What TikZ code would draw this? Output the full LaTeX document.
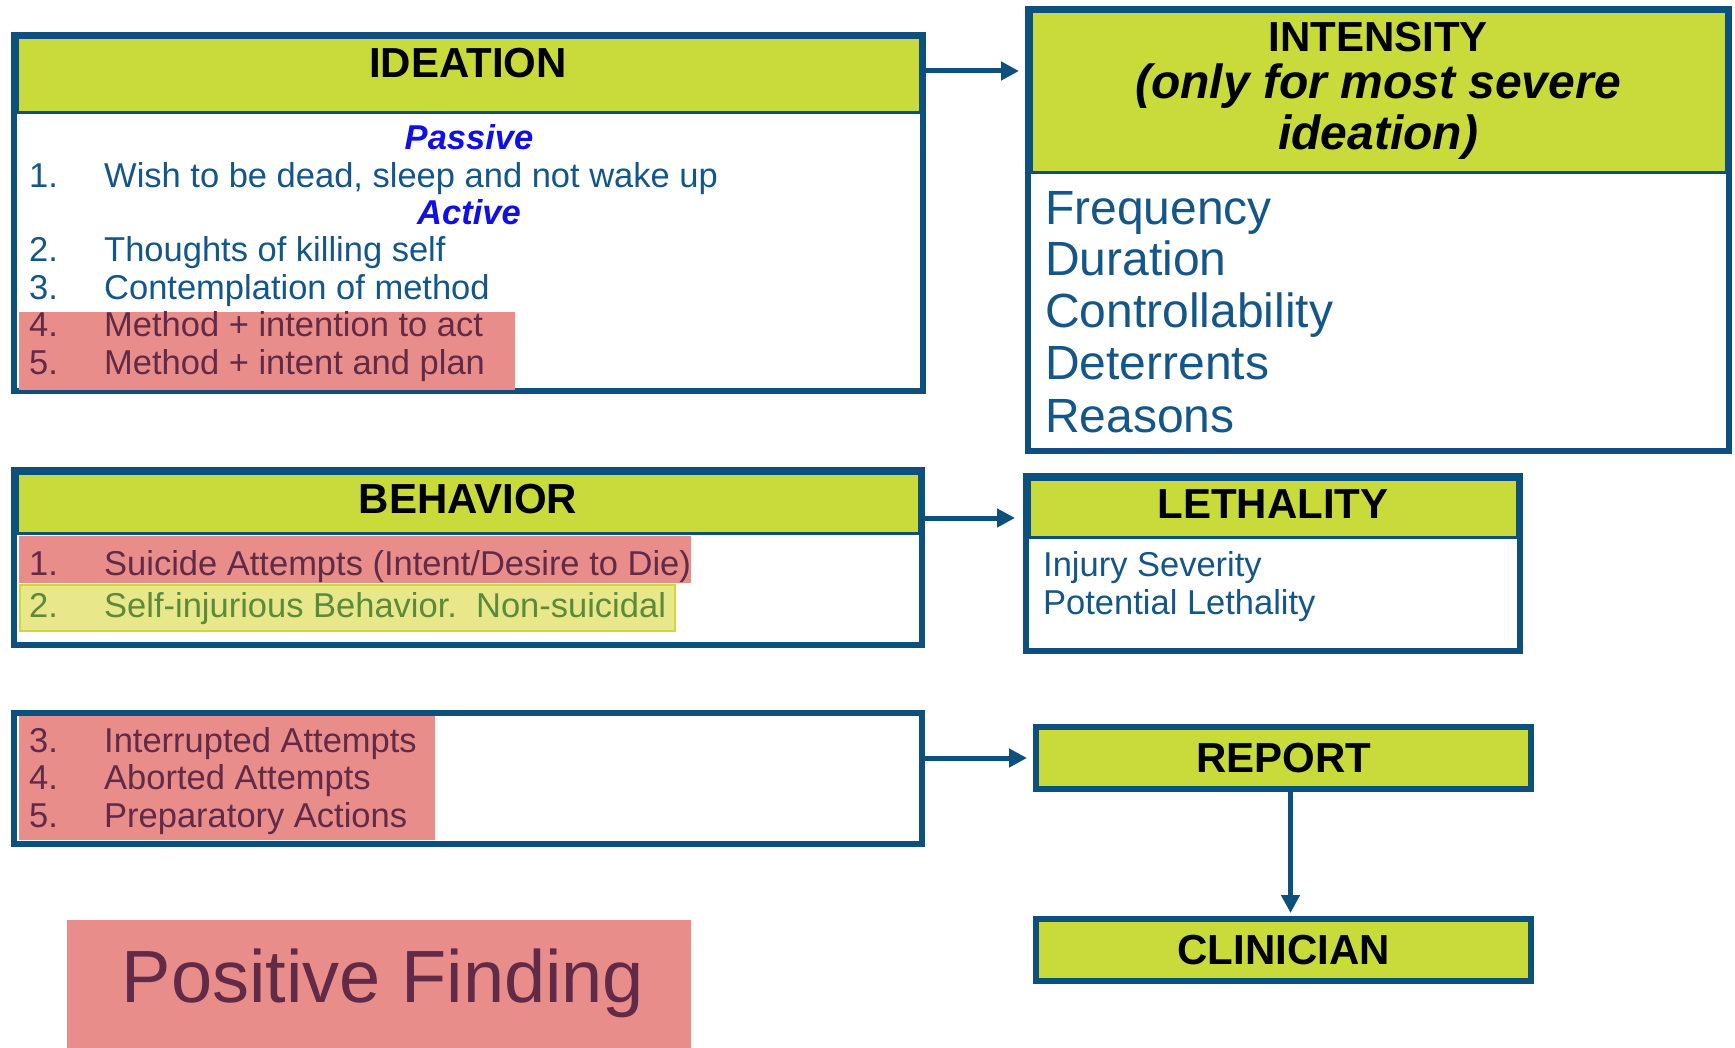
\documentclass[tikz,border=0pt]{standalone}
\usepackage{fontspec}
\setmainfont{Liberation Sans}
\usetikzlibrary{arrows.meta,positioning,calc}

\definecolor{boxblue}{HTML}{0D4F7D}
\definecolor{headgreen}{HTML}{C8DB3A}
\definecolor{bodyblue}{HTML}{14568A}
\definecolor{passiveblue}{HTML}{1010E6}
\definecolor{hlred}{HTML}{E98D8B}
\definecolor{hltext}{HTML}{612A47}
\definecolor{hlyellow}{HTML}{E8E88A}
\definecolor{hlgreen}{HTML}{5B8A3C}

\begin{document}
\begin{tikzpicture}[x=1pt,y=-1pt,
    panel/.style={draw=boxblue, line width=6pt, inner sep=0pt, outer sep=0pt, anchor=north west},
    headbar/.style={draw=boxblue, line width=3pt, fill=headgreen, inner sep=0pt, outer sep=0pt, anchor=north west},
    title/.style={font=\fontsize{42}{50}\selectfont\bfseries, inner sep=0pt, anchor=base},
    subtitle/.style={font=\fontsize{34.5}{37}\selectfont\bfseries\itshape, text=passiveblue, inner sep=0pt, anchor=base},
    num/.style={font=\fontsize{34.5}{37}\selectfont, text=bodyblue, inner sep=0pt, anchor=base west},
    big/.style={font=\fontsize{48}{52}\selectfont, text=bodyblue, inner sep=0pt, anchor=base west},
    link/.style={draw=boxblue, line width=5pt, -{Triangle[length=18pt,width=18pt]}, shorten >=9pt}
]
    % Background
    \useasboundingbox[fill=white] (0,0) rectangle (1735,1048);

    % Boxes
    \node[panel, minimum width=909pt, minimum height=356pt] (ideation) at (14,35) {};
    \node[headbar, minimum width=903pt, minimum height=75pt] (ideationhead) at (17,38) {};
    \node[panel, minimum width=701pt, minimum height=442pt] (intensity) at (1028,9) {};
    \node[headbar, minimum width=695pt, minimum height=161pt] (intensityhead) at (1031,12) {};
    \node[panel, minimum width=908pt, minimum height=175pt] (behavior) at (14,470) {};
    \node[headbar, minimum width=902pt, minimum height=60pt] (behaviorhead) at (17,473) {};
    \node[panel, minimum width=908pt, minimum height=131pt] (actions) at (14,713) {};
    \node[panel, minimum width=494pt, minimum height=175pt] (lethality) at (1026,476) {};
    \node[headbar, minimum width=488pt, minimum height=58pt] (lethalityhead) at (1029,479) {};
    \node[panel, fill=headgreen, minimum width=495pt, minimum height=62pt,
          font=\fontsize{42}{50}\selectfont\bfseries] (report) at (1036,727) {REPORT};
    \node[panel, fill=headgreen, minimum width=495pt, minimum height=62pt,
          font=\fontsize{42}{50}\selectfont\bfseries] (clinician) at (1036,919) {CLINICIAN};

    % Highlights
    \fill[hlred] (19,312) rectangle (515,390);
    \fill[hlred] (19,536) rectangle (691,583);
    \filldraw[fill=hlyellow, draw=headgreen, line width=2pt] (20,585) rectangle (675,631);
    \fill[hlred] (19,716) rectangle (435,840);
    \fill[hlred] (67,920) rectangle (691,1048);

    % Ideation
    \node[title] (ideationtitle) at (468,78) {IDEATION};
    \node[subtitle] (passive) at (469,150) {Passive};
    \node[num] (idea1num) at (29,188) {1.};
    \node[num] (idea1) at (104,188) {Wish to be dead, sleep and not wake up};
    \node[subtitle] (active) at (469,225) {Active};
    \node[num] (idea2num) at (29,262) {2.};
    \node[num] (idea2) at (104,262) {Thoughts of killing self};
    \node[num] (idea3num) at (29,300) {3.};
    \node[num] (idea3) at (104,300) {Contemplation of method};
    \node[num, text=hltext] (idea4num) at (29,337) {4.};
    \node[num, text=hltext] (idea4) at (104,337) {Method + intention to act};
    \node[num, text=hltext] (idea5num) at (29,375) {5.};
    \node[num, text=hltext] (idea5) at (104,375) {Method + intent and plan};

    % Intensity
    \node[title] (intensitytitle) at (1378,52) {INTENSITY};
    \node[title, font=\fontsize{48}{50}\selectfont\bfseries\itshape] (intensitynote) at (1378,99) {(only for most severe};
    \node[title, font=\fontsize{48}{50}\selectfont\bfseries\itshape] (intensitynote2) at (1378,150) {ideation)};
    \node[big] (frequency) at (1045,225) {Frequency};
    \node[big] (duration) at (1045,276) {Duration};
    \node[big] (control) at (1045,328) {Controllability};
    \node[big] (deterrents) at (1045,380) {Deterrents};
    \node[big] (reasons) at (1045,432) {Reasons};

    % Behavior
    \node[title] (behaviortitle) at (468,513) {BEHAVIOR};
    \node[num, text=hltext] (beh1num) at (29,575) {1.};
    \node[num, text=hltext] (beh1) at (104,575) {Suicide Attempts (Intent/Desire to Die)};
    \node[num, text=hlgreen] (beh2num) at (29,617) {2.};
    \node[num, text=hlgreen] (beh2) at (104,617) {Self-injurious Behavior.\ \ Non-suicidal};
    \node[num, text=hltext] (beh3num) at (29,752) {3.};
    \node[num, text=hltext] (beh3) at (104,752) {Interrupted Attempts};
    \node[num, text=hltext] (beh4num) at (29,789) {4.};
    \node[num, text=hltext] (beh4) at (104,789) {Aborted Attempts};
    \node[num, text=hltext] (beh5num) at (29,827) {5.};
    \node[num, text=hltext] (beh5) at (104,827) {Preparatory Actions};

    % Lethality
    \node[title] (lethalitytitle) at (1273,518) {LETHALITY};
    \node[num] (injury) at (1043,576) {Injury Severity};
    \node[num] (potential) at (1043,614) {Potential Lethality};

    % Finding
    \node[num, anchor=base, font=\fontsize{74}{80}\selectfont, text=hltext] (finding) at (383,1002) {Positive Finding};

    % Arrows
    \coordinate (ideaout) at ([yshift=-36pt]ideation.north east);
    \draw[link] (ideaout) -- (ideaout -| intensity.west);
    \coordinate (behout) at ([yshift=-48pt]behavior.north east);
    \draw[link, shorten >=11pt] (behout) -- (behout -| lethality.west);
    \draw[link] (report.west -| actions.east) -- (report.west);
    \coordinate (reportout) at ([xshift=7pt]report.south);
    \draw[link, shorten >=6pt] (reportout) -- (reportout |- clinician.north);
\end{tikzpicture}
\end{document}
